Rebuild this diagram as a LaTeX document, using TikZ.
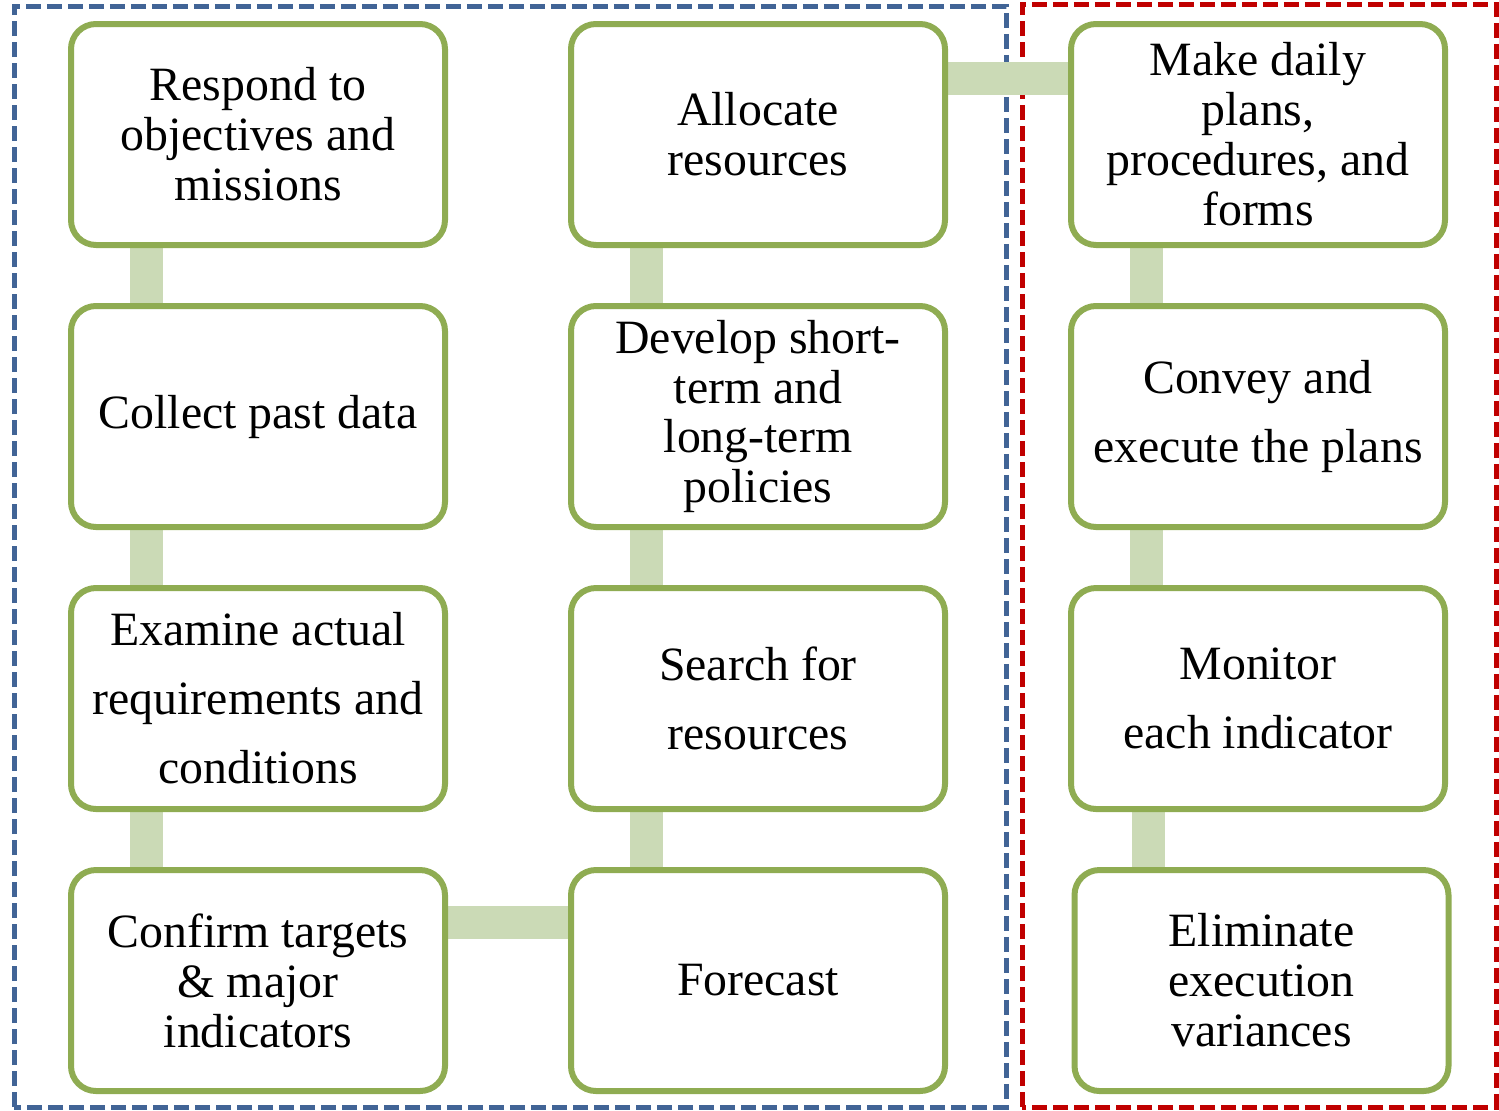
\documentclass[tikz,border=0pt]{standalone}
\usepackage{fontspec}
\setmainfont{Liberation Serif}
\usetikzlibrary{backgrounds}
\definecolor{boxgreen}{RGB}{143,172,82}
\definecolor{linkgreen}{RGB}{203,218,182}
\definecolor{frameblue}{RGB}{65,100,150}
\definecolor{framered}{RGB}{192,0,0}
\begin{document}
\begin{tikzpicture}[
    task/.style={draw=boxgreen, line width=0.06cm, fill=white, rounded corners=0.25cm,
      minimum width=3.74cm, minimum height=2.21cm, align=center, inner sep=0pt,
      font=\fontsize{13.6}{14.2}\selectfont},
    loose/.style={font=\fontsize{13.6}{19.6}\selectfont},
    link/.style={draw=linkgreen, line width=0.33cm},
    frame/.style={line width=0.05cm, dash pattern=on 0.15cm off 0.06cm}]
  \useasboundingbox (0,0) rectangle (14.99,11.10);
  % planning
  \node[task] (respond) at (2.58,9.755) {Respond to\\objectives and\\missions};
  \node[task] (collect) at (2.58,6.935) {Collect past data};
  \node[task,loose] (examine) at (2.58,4.115) {Examine actual\\requirements and\\conditions};
  \node[task] (confirm) at (2.58,1.295) {Confirm targets\\\& major\\indicators};
  \node[task] (allocate) at (7.58,9.755) {Allocate\\resources};
  \node[task] (develop) at (7.58,6.935) {Develop short-\\term and\\long-term\\policies};
  \node[task,loose] (search) at (7.58,4.115) {Search for\\resources};
  \node[task] (forecast) at (7.58,1.295) {Forecast};
  % execution
  \node[task] (daily) at (12.58,9.755) {Make daily\\plans,\\procedures, and\\forms};
  \node[task,loose] (convey) at (12.58,6.935) {Convey and\\execute the plans};
  \node[task,loose] (monitor) at (12.58,4.115) {Monitor\\each indicator};
  \node[task] (eliminate) at (12.615,1.295) {Eliminate\\execution\\variances};
  \begin{scope}[on background layer]
    \draw[frame, frameblue] (0.14,0.03) rectangle (10.06,11.04);
    \draw[frame, framered] (10.22,0.03) rectangle (14.96,11.06);
    \draw[link] ([xshift=-1.12cm]respond.south) -- ([xshift=-1.12cm]collect.north);
    \draw[link] ([xshift=-1.12cm]collect.south) -- ([xshift=-1.12cm]examine.north);
    \draw[link] ([xshift=-1.12cm]examine.south) -- ([xshift=-1.12cm]confirm.north);
    \draw[link] ([yshift=0.585cm]confirm.east) -- ([yshift=0.585cm]forecast.west);
    \draw[link] ([xshift=-1.12cm]forecast.north) -- ([xshift=-1.12cm]search.south);
    \draw[link] ([xshift=-1.12cm]search.north) -- ([xshift=-1.12cm]develop.south);
    \draw[link] ([xshift=-1.12cm]develop.north) -- ([xshift=-1.12cm]allocate.south);
    \draw[link] ([yshift=0.565cm]allocate.east) -- ([yshift=0.565cm]daily.west);
    \draw[link] ([xshift=-1.12cm]daily.south) -- ([xshift=-1.12cm]convey.north);
    \draw[link] ([xshift=-1.12cm]convey.south) -- ([xshift=-1.12cm]monitor.north);
    \draw[link] ([xshift=-1.1cm]monitor.south) -- ([xshift=-1.1cm]monitor.south |- eliminate.north);
  \end{scope}
\end{tikzpicture}
\end{document}
